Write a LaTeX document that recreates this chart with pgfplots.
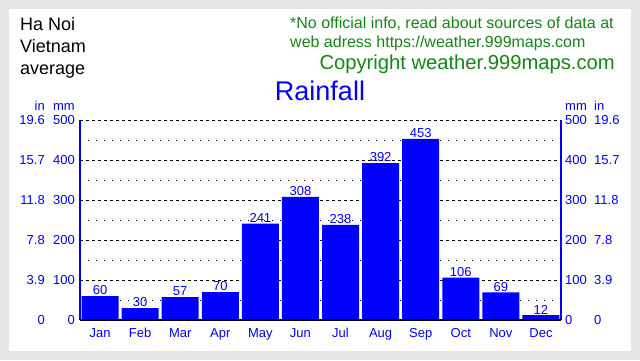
\documentclass[border=0pt]{standalone}
\usepackage{pgfplots}
\pgfplotsset{compat=1.18}
\usepackage{fontspec}
\setmainfont{Liberation Sans}
\definecolor{bg}{RGB}{230,230,230}
\definecolor{grn}{RGB}{20,135,20}
\newcommand{\fs}[1]{\fontsize{#1}{#1}\selectfont}
\begin{document}
\begin{tikzpicture}[x=1pt,y=1pt]
\useasboundingbox (0,0) rectangle (640,360);
\fill[bg] (0,0) rectangle (640,360);
\fill[white] (9,9) rectangle (631,351);
\begin{axis}[
  at={(80pt,40pt)}, anchor=south west,
  scale only axis, width=481pt, height=200pt,
  xmin=-0.5, xmax=11.5, ymin=0, ymax=500,
  axis line style={draw=none},
  major tick length=0pt, minor tick length=0pt,
  xtick={0,...,11},
  xticklabels={Jan,Feb,Mar,Apr,May,Jun,Jul,Aug,Sep,Oct,Nov,Dec},
  ytick={0,100,...,500},
  yticklabels={
    {\makebox[30pt][r]{0}\makebox[30pt][r]{0}},
    {\makebox[30pt][r]{3.9}\makebox[30pt][r]{100}},
    {\makebox[30pt][r]{7.8}\makebox[30pt][r]{200}},
    {\makebox[30pt][r]{11.8}\makebox[30pt][r]{300}},
    {\makebox[30pt][r]{15.7}\makebox[30pt][r]{400}},
    {\makebox[30pt][r]{19.6}\makebox[30pt][r]{500}}},
  minor ytick={50,150,...,450},
  ymajorgrids, yminorgrids,
  major grid style={black, line width=1pt, dash pattern=on 3pt off 3pt},
  minor grid style={black, line width=1pt, dash pattern=on 1pt off 7pt},
  xticklabel style={blue, font=\fs{13}, anchor=north, inner sep=0pt, yshift=-8pt},
  yticklabel style={blue, font=\fs{13}, anchor=east, inner sep=0pt, xshift=-5pt},
  /pgf/number format/assume math mode=true,
  clip=false,
]
\addplot[ybar, bar width=37pt, fill=blue, draw=none, bar shift=0pt,
  nodes near coords,
  every node near coord/.append style={blue, font=\fs{13}, inner sep=1pt}]
  coordinates {(0,60) (1,30) (2,57) (3,70) (4,241) (5,308) (6,238) (7,392) (8,453) (9,106) (10,69) (11,12)};
\draw[blue, line width=1.5pt] (rel axis cs:0,0) -- (rel axis cs:0,1);
\draw[blue, line width=1.5pt] (rel axis cs:1,0) -- (rel axis cs:1,1);
\draw[black, line width=1.5pt] (rel axis cs:0,0) -- (rel axis cs:1,0);
\end{axis}
\begin{axis}[
  at={(80pt,40pt)}, anchor=south west,
  scale only axis, width=481pt, height=200pt,
  xmin=-0.5, xmax=11.5, ymin=0, ymax=500,
  axis line style={draw=none},
  major tick length=0pt,
  xtick=\empty,
  ytick={0,100,...,500},
  yticklabel pos=right,
  yticklabels={
    {\makebox[29pt][l]{0}\makebox[30pt][l]{0}},
    {\makebox[29pt][l]{100}\makebox[30pt][l]{3.9}},
    {\makebox[29pt][l]{200}\makebox[30pt][l]{7.8}},
    {\makebox[29pt][l]{300}\makebox[30pt][l]{11.8}},
    {\makebox[29pt][l]{400}\makebox[30pt][l]{15.7}},
    {\makebox[29pt][l]{500}\makebox[30pt][l]{19.6}}},
  yticklabel style={blue, font=\fs{13}, anchor=west, inner sep=0pt, xshift=4pt},
]
\addplot[draw=none] coordinates {(0,0)};
\end{axis}
\node[anchor=base west, inner sep=0pt, font=\fs{18}] at (20,330) {Ha Noi};
\node[anchor=base west, inner sep=0pt, font=\fs{18}] at (20,308) {Vietnam};
\node[anchor=base west, inner sep=0pt, font=\fs{18}] at (20,286) {average};
\node[anchor=base west, inner sep=0pt, font=\fs{16}, text=grn] at (290,332) {*No official info, read about sources of data at};
\node[anchor=base west, inner sep=0pt, font=\fs{16}, text=grn] at (290,313) {web adress https://weather.999maps.com};
\node[anchor=base east, inner sep=0pt, font=\fs{20.2}, text=grn] at (615,291) {Copyright weather.999maps.com};
\node[anchor=base, inner sep=0pt, font=\fs{27}, text=blue] at (320,260) {Rainfall};
\node[anchor=base east, inner sep=0pt, font=\fs{13}, text=blue] at (45,250) {in};
\node[anchor=base east, inner sep=0pt, font=\fs{13}, text=blue] at (75,250) {mm};
\node[anchor=base west, inner sep=0pt, font=\fs{13}, text=blue] at (565,250) {mm};
\node[anchor=base west, inner sep=0pt, font=\fs{13}, text=blue] at (594,250) {in};
\end{tikzpicture}
\end{document}
